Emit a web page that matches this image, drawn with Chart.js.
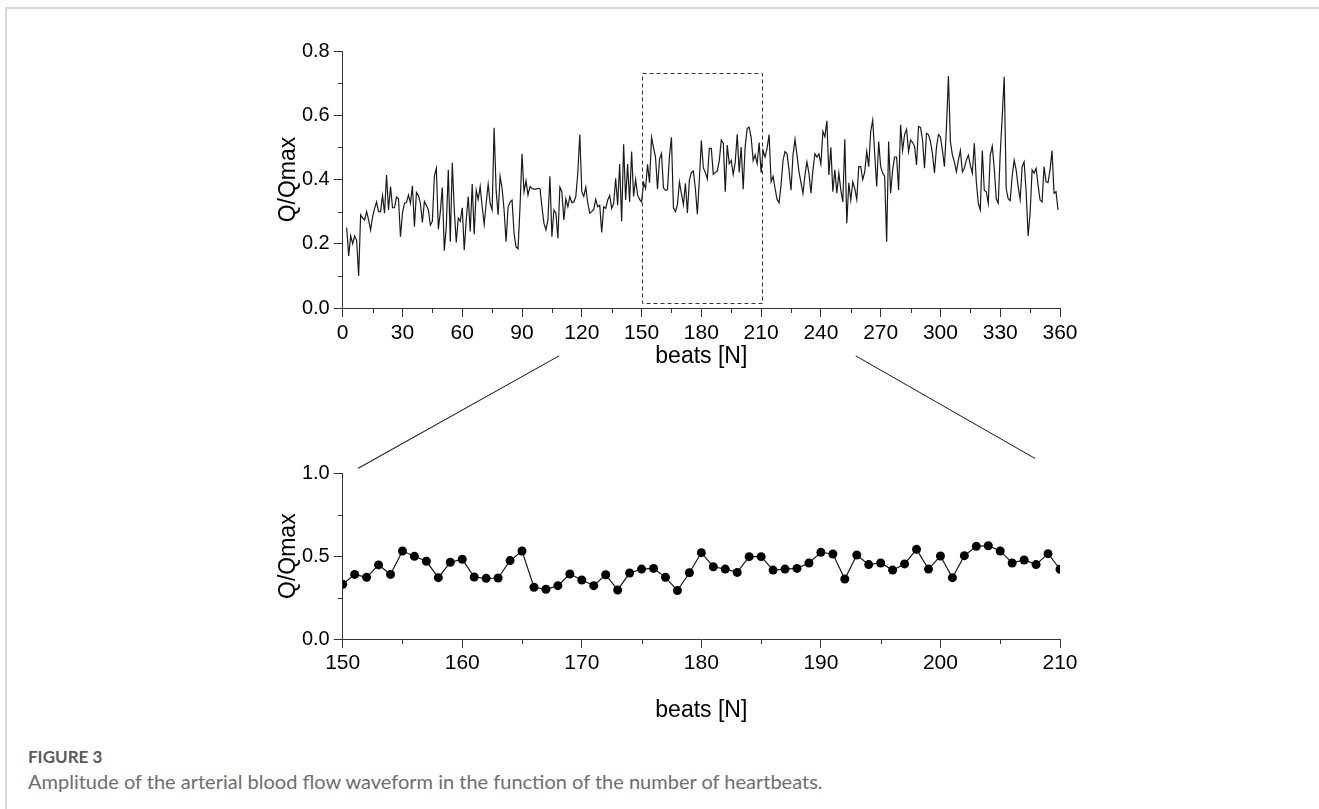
<!DOCTYPE html>
<html>
<head>
<meta charset="utf-8">
<script src="https://cdn.jsdelivr.net/npm/chart.js@4.4.1/dist/chart.umd.min.js"></script>
<style>
  html, body { margin: 0; padding: 0; background: #fff; }
  body { width: 1319px; height: 809px; position: relative; overflow: hidden; }
  #frame { position: absolute; left: 5px; top: 7px; width: 1400px; height: 900px;
           border-top: 2px solid #d6d6d6; border-left: 2px solid #d6d6d6; }
  #topWrap { position: absolute; left: 0; top: 0; width: 1319px; height: 420px; }
  #zoomWrap { position: absolute; left: 0; top: 340px; width: 1319px; height: 400px; }
  .figno { position: absolute; left: 28px; top: 746px; font: 700 17px Lato, "Open Sans", sans-serif; color: #5a5a5a; line-height: 22px; }
  .figcap { position: absolute; left: 28px; top: 769px; font: 20px Lato, "Open Sans", sans-serif; color: #6e6e6e; line-height: 24px; }
</style>
</head>
<body>
<div id="frame"></div>
<div id="topWrap"><canvas id="topChart" width="1319" height="420"></canvas></div>
<div id="zoomWrap"><canvas id="zoomChart" width="1319" height="400"></canvas></div>
<div class="figno">FIGURE 3</div>
<div class="figcap">Amplitude of the arterial blood flow waveform in the function of the number of heartbeats.</div>
<script>
// beats 2..149 (upper panel)
const beatsStart = 2;
const valuesA = [
  0.25, 0.162, 0.225, 0.20, 0.224, 0.21, 0.10, 0.29, 0.28, 0.274,
  0.30, 0.274, 0.243, 0.284, 0.31, 0.33, 0.30, 0.30, 0.35, 0.295,
  0.414, 0.305, 0.378, 0.312, 0.312, 0.345, 0.34, 0.222, 0.295, 0.326,
  0.328, 0.352, 0.326, 0.38, 0.253, 0.36, 0.35, 0.326, 0.266, 0.332,
  0.32, 0.305, 0.258, 0.27, 0.41, 0.435, 0.245, 0.30, 0.375, 0.178,
  0.255, 0.43, 0.206, 0.452, 0.305, 0.204, 0.28, 0.27, 0.312, 0.18,
  0.274, 0.347, 0.238, 0.386, 0.23, 0.367, 0.338, 0.378, 0.315, 0.26,
  0.326, 0.385, 0.326, 0.305, 0.561, 0.367, 0.29, 0.41, 0.372, 0.305,
  0.206, 0.315, 0.33, 0.336, 0.232, 0.19, 0.184, 0.315, 0.48, 0.362,
  0.396, 0.352, 0.378, 0.372, 0.37, 0.37, 0.372, 0.372, 0.315, 0.264,
  0.243, 0.274, 0.41, 0.222, 0.305, 0.295, 0.217, 0.376, 0.362, 0.274,
  0.34, 0.315, 0.347, 0.328, 0.33, 0.347, 0.42, 0.54, 0.362, 0.347,
  0.376, 0.326, 0.295, 0.30, 0.307, 0.338, 0.315, 0.32, 0.235, 0.315,
  0.31, 0.336, 0.35, 0.31, 0.326, 0.404, 0.32, 0.448, 0.27, 0.51,
  0.336, 0.448, 0.33, 0.487, 0.347, 0.40, 0.352, 0.338
];
// beats 150..210 (the zoomed window, lower panel)
const zoomStart = 150;
const zoomValues = [
  0.330, 0.390, 0.372, 0.447, 0.390, 0.531, 0.499, 0.469, 0.370, 0.463,
  0.481, 0.374, 0.366, 0.368, 0.473, 0.531, 0.312, 0.300, 0.322, 0.392,
  0.356, 0.322, 0.388, 0.296, 0.398, 0.422, 0.426, 0.372, 0.292, 0.400,
  0.521, 0.436, 0.422, 0.402, 0.497, 0.497, 0.416, 0.422, 0.426, 0.459,
  0.523, 0.513, 0.362, 0.507, 0.449, 0.459, 0.416, 0.453, 0.541, 0.422,
  0.501, 0.370, 0.503, 0.559, 0.563, 0.531, 0.459, 0.477, 0.449, 0.515,
  0.421
];
// beats 211..359
const valuesB = [
  0.49, 0.47, 0.497, 0.54, 0.393, 0.41, 0.372, 0.338, 0.328, 0.383,
  0.46, 0.487, 0.48, 0.43, 0.367, 0.476, 0.525, 0.476, 0.424, 0.39,
  0.357, 0.414, 0.455, 0.42, 0.357, 0.43, 0.48, 0.47, 0.48, 0.448,
  0.55, 0.533, 0.583, 0.414, 0.50, 0.362, 0.43, 0.357, 0.42, 0.367,
  0.33, 0.525, 0.264, 0.39, 0.336, 0.393, 0.372, 0.338, 0.44, 0.44,
  0.40, 0.424, 0.487, 0.44, 0.55, 0.585, 0.48, 0.378, 0.518, 0.44,
  0.42, 0.41, 0.206, 0.518, 0.357, 0.43, 0.47, 0.47, 0.367, 0.57,
  0.49, 0.54, 0.556, 0.487, 0.523, 0.515, 0.504, 0.445, 0.565, 0.562,
  0.523, 0.435, 0.544, 0.54, 0.518, 0.48, 0.42, 0.50, 0.54, 0.533,
  0.49, 0.44, 0.56, 0.722, 0.518, 0.476, 0.455, 0.424, 0.46, 0.49,
  0.424, 0.435, 0.46, 0.476, 0.445, 0.42, 0.513, 0.393, 0.326, 0.305,
  0.49, 0.367, 0.362, 0.326, 0.476, 0.504, 0.435, 0.34, 0.326, 0.48,
  0.595, 0.72, 0.372, 0.34, 0.334, 0.41, 0.46, 0.43, 0.378, 0.338,
  0.44, 0.455, 0.362, 0.224, 0.295, 0.43, 0.42, 0.435, 0.383, 0.336,
  0.33, 0.44, 0.393, 0.39, 0.43, 0.49, 0.357, 0.362, 0.305
];
const topValues = valuesA.concat(zoomValues, valuesB);

// axis ticks
const topXTicks = [0, 30, 60, 90, 120, 150, 180, 210, 240, 270, 300, 330, 360];
const topXMinor = [15, 45, 75, 105, 135, 165, 195, 225, 255, 285, 315, 345];
const topYTicks = [0.0, 0.2, 0.4, 0.6, 0.8];
const topYMinor = [0.1, 0.3, 0.5, 0.7];
const zoomXTicks = [150, 160, 170, 180, 190, 200, 210];
const zoomXMinor = [155, 165, 175, 185, 195, 205];
const zoomYTicks = [0.0, 0.5, 1.0];
const zoomYMinor = [0.25, 0.75];

// dashed window on upper panel, and connector anchors (upper x, upper y) -> (lower x, lower y)
const windowBox = { x0: 150, x1: 210, y0: 0.015, y1: 0.73 };
const connectors = [
  { from: [108.6, -0.149], to: [151.3, 1.03] },
  { from: [257.5, -0.149], to: [207.9, 1.09] }
];

const axisColor = '#333';
const xTickFont = { family: '"Liberation Sans", Arial, sans-serif', size: 21 };
const yTickFont = { family: '"Liberation Sans", Arial, sans-serif', size: 20 };
const titleFont = { family: '"Liberation Sans", Arial, sans-serif', size: 23 };

function minorTicks(xMinor, yMinor) {
  return {
    id: 'minorTicks',
    afterDraw(chart) {
      const ctx = chart.ctx, xs = chart.scales.x, ys = chart.scales.y;
      const area = chart.chartArea;
      ctx.save();
      ctx.strokeStyle = axisColor;
      ctx.lineWidth = 1;
      ctx.beginPath();
      xMinor.forEach(v => {
        const px = Math.round(xs.getPixelForValue(v)) + 0.5;
        ctx.moveTo(px, area.bottom);
        ctx.lineTo(px, area.bottom + 5);
      });
      yMinor.forEach(v => {
        const py = Math.round(ys.getPixelForValue(v)) + 0.5;
        ctx.moveTo(area.left, py);
        ctx.lineTo(area.left - 5, py);
      });
      ctx.stroke();
      ctx.restore();
    }
  };
}

function axes(xMin, xMax, xTicks, yMin, yMax, yTicks, yWidth, xHeight, xPad) {
  return {
    x: {
      type: 'linear', min: xMin, max: xMax,
      afterBuildTicks: s => { s.ticks = xTicks.map(v => ({ value: v })); },
      afterFit: s => { s.height = xHeight; },
      grid: { drawOnChartArea: false, drawTicks: true, tickLength: 9, color: axisColor, lineWidth: 1 },
      border: { display: true, color: axisColor, width: 1 },
      ticks: { color: '#000', font: xTickFont, padding: xPad, maxRotation: 0, autoSkip: false },
      title: { display: true, text: 'beats [N]', color: '#000', font: titleFont, padding: 0 }
    },
    y: {
      type: 'linear', min: yMin, max: yMax,
      afterBuildTicks: s => { s.ticks = yTicks.map(v => ({ value: v })); },
      afterFit: s => { s.width = yWidth; },
      grid: { drawOnChartArea: false, drawTicks: true, tickLength: 9, color: axisColor, lineWidth: 1 },
      border: { display: true, color: axisColor, width: 1 },
      ticks: { color: '#000', font: yTickFont, padding: 4, callback: v => v.toFixed(1) },
      title: { display: true, text: 'Q/Qmax', color: '#000', font: titleFont, padding: 0 }
    }
  };
}

// y-title centre sits at layout left + half line height (23 * 1.2 / 2)
const leftPad = 289 - 13.8;
const yAxisWidth = 342.7 - leftPad;

const topChart = new Chart(document.getElementById('topChart'), {
  type: 'line',
  data: {
    datasets: [{
      data: topValues.map((v, i) => ({ x: beatsStart + i, y: v })),
      borderColor: '#1a1a1a', borderWidth: 1.2, pointRadius: 0, tension: 0
    }]
  },
  options: {
    responsive: false, animation: false,
    layout: { padding: { left: leftPad, right: 259, top: 51, bottom: 50 } },
    plugins: { legend: { display: false }, tooltip: { enabled: false } },
    scales: axes(0, 360, topXTicks, 0, 0.8, topYTicks, yAxisWidth, 62, 4)
  },
  plugins: [minorTicks(topXMinor, topYMinor), {
    id: 'windowBox',
    afterDraw(chart) {
      const ctx = chart.ctx, xs = chart.scales.x, ys = chart.scales.y;
      const l = xs.getPixelForValue(windowBox.x0), r = xs.getPixelForValue(windowBox.x1);
      const t = ys.getPixelForValue(windowBox.y1), b = ys.getPixelForValue(windowBox.y0);
      ctx.save();
      ctx.strokeStyle = '#333';
      ctx.lineWidth = 1;
      ctx.setLineDash([4, 3]);
      ctx.strokeRect(Math.round(l) + 0.5, Math.round(t) + 0.5, Math.round(r - l), Math.round(b - t));
      ctx.restore();
    }
  }]
});

const zoomTop = 340;
const zoomChart = new Chart(document.getElementById('zoomChart'), {
  type: 'line',
  data: {
    datasets: [{
      data: zoomValues.map((v, i) => ({ x: zoomStart + i, y: v })),
      borderColor: '#1a1a1a', borderWidth: 1.2, tension: 0,
      pointRadius: 4.5, pointBackgroundColor: '#000', pointBorderColor: '#000', pointBorderWidth: 0
    }]
  },
  options: {
    responsive: false, animation: false,
    layout: { padding: { left: leftPad, right: 259, top: 133.3, bottom: 15.6 } },
    plugins: { legend: { display: false }, tooltip: { enabled: false } },
    scales: axes(150, 210, zoomXTicks, 0, 1.0, zoomYTicks, yAxisWidth, 85.4, 3)
  },
  plugins: [minorTicks(zoomXMinor, zoomYMinor), {
    id: 'connectors',
    afterDraw(chart) {
      const ctx = chart.ctx;
      const ux = topChart.scales.x, uy = topChart.scales.y;
      const lx = chart.scales.x, ly = chart.scales.y;
      ctx.save();
      ctx.strokeStyle = '#222';
      ctx.lineWidth = 1.1;
      ctx.beginPath();
      connectors.forEach(c => {
        ctx.moveTo(ux.getPixelForValue(c.from[0]), uy.getPixelForValue(c.from[1]) - zoomTop);
        ctx.lineTo(lx.getPixelForValue(c.to[0]), ly.getPixelForValue(c.to[1]));
      });
      ctx.stroke();
      ctx.restore();
    }
  }]
});
</script>
</body>
</html>
